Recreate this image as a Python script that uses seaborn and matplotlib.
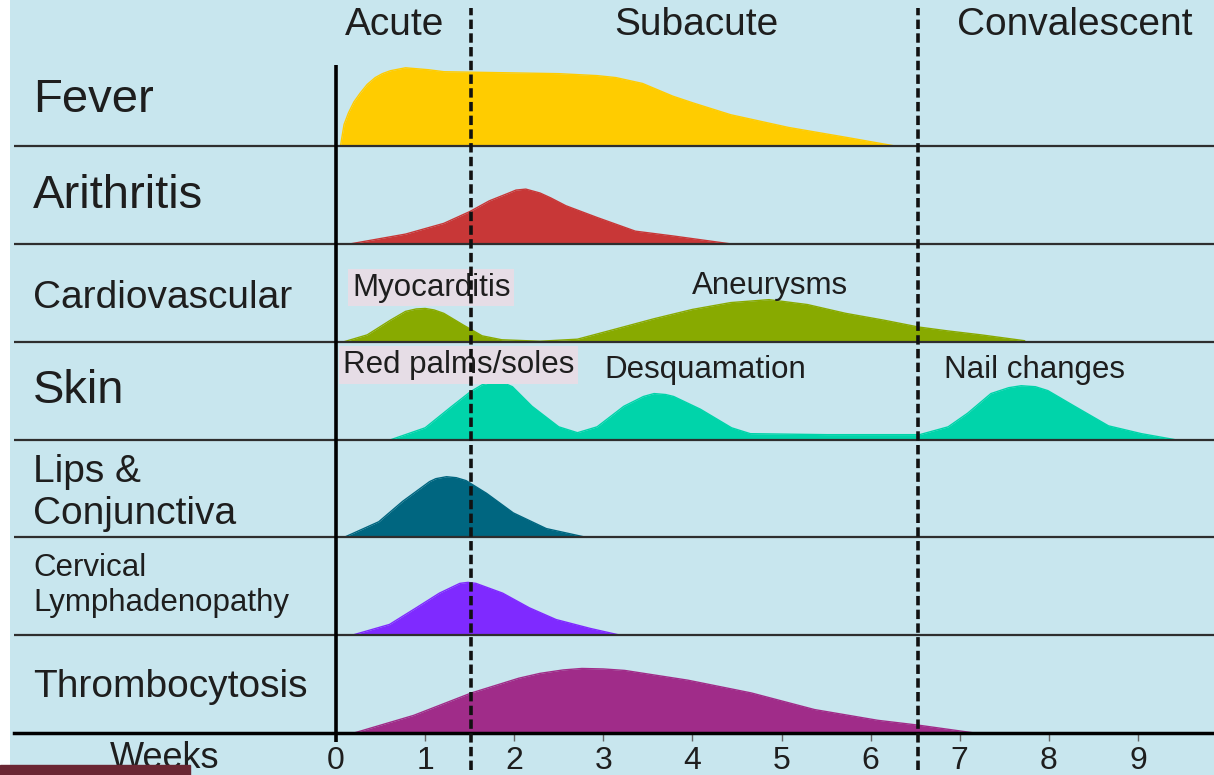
import numpy as np
import pandas as pd
import matplotlib
matplotlib.use("Agg")
import matplotlib.pyplot as plt
import seaborn as sns
from matplotlib.patches import Rectangle

sns.set_style("white")
plt.rcParams['font.family'] = ['Liberation Sans', 'DejaVu Sans']

# symptom rows, top to bottom
symptoms = ["Fever", "Arithritis", "Cardiovascular", "Skin",
            "Lips &\nConjunctiva", "Cervical\nLymphadenopathy", "Thrombocytosis"]
colors = ["#ffcc00", "#c83737", "#88aa00", "#00d4aa", "#006680", "#7f2aff", "#a02c89"]

# curves: weeks, height as fraction of a row
fever_w = [0.05, 0.09, 0.14, 0.20, 0.27, 0.35, 0.44, 0.52, 0.61, 0.78, 1.04, 1.21, 2.50, 2.93,
           3.14, 3.44, 3.78, 4.01, 4.43, 5.08, 5.72, 6.28]
fever_h = [0.00, 0.22, 0.34, 0.45, 0.54, 0.63, 0.70, 0.74, 0.77, 0.80, 0.78, 0.76, 0.74, 0.72,
           0.70, 0.64, 0.51, 0.44, 0.32, 0.19, 0.09, 0.00]

arth_w = [0.16, 0.78, 1.21, 1.50, 1.72, 1.94, 2.02, 2.13, 2.29, 2.41, 2.58, 2.93, 3.36, 3.79, 4.43]
arth_h = [0.00, 0.10, 0.21, 0.33, 0.44, 0.52, 0.55, 0.56, 0.52, 0.47, 0.39, 0.27, 0.13, 0.08, 0.00]

cardio_w = [0.09, 0.35, 0.61, 0.78, 0.90, 1.00, 1.10, 1.21, 1.43, 1.64, 1.86, 2.29, 2.71, 3.14,
            3.57, 4.00, 4.43, 4.86, 5.29, 5.72, 6.15, 6.54, 6.87, 7.24, 7.73]
cardio_h = [0.00, 0.07, 0.22, 0.31, 0.335, 0.34, 0.325, 0.29, 0.17, 0.06, 0.02, 0.005, 0.026, 0.13,
            0.235, 0.33, 0.40, 0.43, 0.38, 0.29, 0.22, 0.15, 0.11, 0.07, 0.01]

skin_w = [0.62, 1.00, 1.30, 1.51, 1.64, 1.77, 1.88, 1.98, 2.20, 2.50, 2.71, 2.93, 3.23, 3.45,
          3.57, 3.70, 3.79, 4.09, 4.44, 4.65, 5.51, 6.55, 6.87, 7.09, 7.35, 7.55, 7.69, 7.85,
          7.99, 8.29, 8.67, 9.04, 9.41]
skin_h = [0.00, 0.12, 0.34, 0.49, 0.56, 0.59, 0.58, 0.54, 0.34, 0.13, 0.07, 0.13, 0.34, 0.44,
          0.47, 0.46, 0.44, 0.31, 0.12, 0.06, 0.05, 0.05, 0.13, 0.27, 0.47, 0.53, 0.55, 0.54,
          0.50, 0.34, 0.14, 0.06, 0.00]

lips_w = [0.09, 0.48, 0.75, 1.05, 1.12, 1.24, 1.35, 1.46, 1.69, 1.99, 2.36, 2.81]
lips_h = [0.00, 0.16, 0.37, 0.57, 0.60, 0.62, 0.61, 0.58, 0.45, 0.25, 0.09, 0.00]

cerv_w = [0.18, 0.60, 0.90, 1.16, 1.39, 1.48, 1.57, 1.87, 2.17, 2.47, 2.85, 3.19]
cerv_h = [0.00, 0.11, 0.28, 0.43, 0.53, 0.54, 0.53, 0.43, 0.28, 0.16, 0.07, 0.00]

thromb_w = [0.20, 0.87, 1.52, 2.05, 2.29, 2.55, 2.76, 3.00, 3.24, 3.95, 4.66, 5.37, 6.08, 6.54, 7.17]
thromb_h = [0.00, 0.18, 0.41, 0.56, 0.61, 0.645, 0.66, 0.655, 0.64, 0.54, 0.41, 0.24, 0.13, 0.08, 0.00]

curves = [(fever_w, fever_h), (arth_w, arth_h), (cardio_w, cardio_h), (skin_w, skin_h),
          (lips_w, lips_h), (cerv_w, cerv_h), (thromb_w, thromb_h)]

phases = ["Acute", "Subacute", "Convalescent"]
phase_bounds = [1.51, 6.53]
weeks = list(range(10))

annotations = ["Myocarditis", "Aneurysms", "Red palms/soles", "Desquamation", "Nail changes"]

# long format
rows = []
for i, (name, (w, h)) in enumerate(zip(symptoms, curves)):
    base = len(symptoms) - 1 - i
    for x, y in zip(w, h):
        rows.append([name, x, base + y])
df = pd.DataFrame(rows, columns=["symptom", "week", "level"])

fig = plt.figure(figsize=(12.14, 7.75), dpi=100, facecolor="white")
ax = fig.add_axes([10 / 1214, 0, 1 - 10 / 1214, 1])
ax.set_facecolor("#c8e6ee")

x_left, x_right = -3.659, 9.854
ax.set_xlim(x_left, x_right)
ax.set_ylim(-0.429, 7.493)

for i, (name, (w, h)) in enumerate(zip(symptoms, curves)):
    base = len(symptoms) - 1 - i
    ax.fill_between(w, base, base + np.array(h), color=colors[i], lw=0, zorder=1)

sns.lineplot(data=df, x="week", y="level", hue="symptom", palette=dict(zip(symptoms, colors)),
             legend=False, lw=1, estimator=None, ax=ax, zorder=1.5)

# row separators
ax.hlines(range(1, len(symptoms)), -3.614, x_right, color="#2e2e2e", lw=1.6, zorder=3)
ax.vlines(0, -0.09, 6.83, color="black", lw=2.6, zorder=4)

# phase boundaries
for b in phase_bounds:
    ax.plot([b, b], [-0.378, 7.41], color="#111111", lw=2.6, ls=(0, (2.6, 1.2)), zorder=6)

# row labels (baseline of last line)
label_sizes = [34, 34, 28, 34, 28, 22.5, 28]
label_offsets = [0.35, 0.37, 0.34, 0.37, 0.14, 0.25, 0.37]
label_spacing = [1.0, 1.0, 1.0, 1.0, 1.22, 1.2, 1.0]
for i, name in enumerate(symptoms):
    base = len(symptoms) - 1 - i
    ax.text(-3.40, base + label_offsets[i], name, fontsize=label_sizes[i], color="#1e1e1e",
            va="baseline", ha="left", linespacing=label_spacing[i], zorder=5)

# phase names
for name, xc in zip(phases, [0.66, 4.04, 8.29]):
    ax.text(xc, 7.135, name, fontsize=28, color="#1e1e1e", ha="center", va="baseline")

# annotations
ann_pos = [(0.18, 4.47), (3.99, 4.49), (0.08, 3.68), (3.01, 3.63), (6.82, 3.63)]
ann_box = [True, False, True, False, False]
for name, (x, y), boxed in zip(annotations, ann_pos, ann_box):
    kw = {}
    if boxed:
        kw["bbox"] = dict(boxstyle="square,pad=0.12", fc="#e6dde6", ec="none")
    ax.text(x, y, name, fontsize=22.5, color="#1e1e1e", ha="left", va="baseline", zorder=5, **kw)

# axis with weeks
for s in ["top", "left", "right"]:
    ax.spines[s].set_visible(False)
ax.spines["bottom"].set_position(("data", 0))
ax.spines["bottom"].set_bounds(-3.614, x_right)
ax.spines["bottom"].set_linewidth(2.5)
ax.spines["bottom"].set_color("black")
ax.spines["bottom"].set_zorder(4)
ax.set_xticks(weeks)
ax.set_xticklabels([str(w) for w in weeks])
ax.set_yticks([])
ax.tick_params(axis="x", direction="out", length=6, width=1, color="#666666", pad=3,
               labelsize=23, labelcolor="#1e1e1e", bottom=True)
ax.set_xlabel("")
ax.set_ylabel("")
ax.text(-1.92, -0.358, "Weeks", fontsize=26, color="#1e1e1e", ha="center", va="baseline")

fig.add_artist(Rectangle((0, 0), 190 / 1214, 10 / 775, transform=fig.transFigure,
                         color="#6a2633", zorder=10))

plt.savefig("out.png", dpi=100, facecolor="white")
plt.close()
